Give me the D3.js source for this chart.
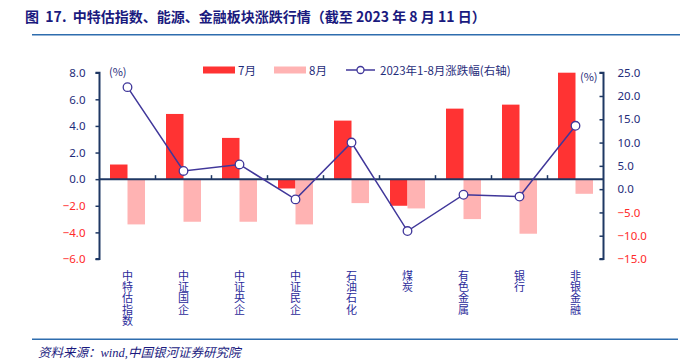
<!DOCTYPE html>
<html>
<head>
<meta charset="utf-8">
<script src="https://cdn.jsdelivr.net/npm/d3@7"></script>
<style>
  body { margin: 0; background: #fff; }
  svg { display: block; font-family: "Noto Sans CJK SC", "Noto Sans", sans-serif; }
</style>
</head>
<body>
<svg width="685" height="360"></svg>
<script>
const categories = ["中特估指数", "中证国企", "中证央企", "中证民企", "石油石化", "煤炭", "有色金属", "银行", "非银金融"];
const july = [1.1, 4.9, 3.1, -0.7, 4.4, -2.0, 5.3, 5.6, 8.0];
const august = [-3.4, -3.2, -3.2, -3.4, -1.8, -2.2, -3.0, -4.1, -1.1];
const ytd = [21.9, 3.9, 5.3, -2.2, 10.0, -9.0, -1.2, -1.6, 13.6];
const leftTicks = [8, 6, 4, 2, 0, -2, -4, -6];
const rightTicks = [25, 20, 15, 10, 5, 0, -5, -10, -15];

const navy = "#1F2C7A";
const axisColor = "#1F3864";
const red = "#FF3333";
const pink = "#FFB3B3";
const lineColor = "#40379A";

const svg = d3.select("svg");

const margin = { left: 99.5, right: 603.5, top: 72.7, bottom: 259 };

const x = d3.scaleBand()
  .domain(categories)
  .range([margin.left, margin.right])
  .paddingInner(0.375)
  .paddingOuter(0.1875);

const xSub = d3.scaleBand()
  .domain(["7月", "8月"])
  .range([0, x.bandwidth()]);

const yLeft = d3.scaleLinear().domain([-6, 8]).range([margin.bottom, margin.top]);
const yRight = d3.scaleLinear().domain([-15, 25]).range([margin.bottom, margin.top]);

// title
svg.append("text")
  .attr("x", 25)
  .attr("y", 22)
  .attr("fill", "#1A1A7E")
  .attr("font-size", 14)
  .attr("font-weight", "bold")
  .attr("xml:space", "preserve")
  .text("图  17.  中特估指数、能源、金融板块涨跌行情（截至 2023 年 8 月 11 日）");

svg.append("line")
  .attr("x1", 32).attr("x2", 680)
  .attr("y1", 34.7).attr("y2", 34.7)
  .attr("stroke", "#2E6DAE").attr("stroke-width", 1.5);

svg.append("line")
  .attr("x1", 32).attr("x2", 678)
  .attr("y1", 339.3).attr("y2", 339.3)
  .attr("stroke", "#2E6DAE").attr("stroke-width", 1.5);

svg.append("text")
  .attr("x", 38)
  .attr("y", 357)
  .attr("fill", "#1A1A7E")
  .attr("font-size", 12.5)
  .attr("font-style", "italic")
  .attr("font-family", "'Liberation Serif', 'Noto Sans CJK SC', serif")
  .text("资料来源：wind,中国银河证券研究院");

// bars
const groups = svg.append("g")
  .selectAll("g")
  .data(categories)
  .join("g")
  .attr("transform", d => `translate(${x(d)},0)`);

groups.append("rect")
  .attr("x", xSub("7月"))
  .attr("width", xSub.bandwidth())
  .attr("y", (d, i) => yLeft(Math.max(0, july[i])))
  .attr("height", (d, i) => Math.abs(yLeft(july[i]) - yLeft(0)))
  .attr("fill", red);

groups.append("rect")
  .attr("x", xSub("8月"))
  .attr("width", xSub.bandwidth())
  .attr("y", (d, i) => yLeft(Math.max(0, august[i])))
  .attr("height", (d, i) => Math.abs(yLeft(august[i]) - yLeft(0)))
  .attr("fill", pink);

// left axis
const leftAxis = svg.append("g")
  .attr("transform", `translate(${margin.left},0)`)
  .call(d3.axisLeft(yLeft).tickValues(leftTicks).tickSize(4).tickFormat(d3.format(".1f")));
leftAxis.select(".domain").attr("stroke", axisColor).attr("stroke-width", 2).attr("d", `M-4,${margin.top}H0V${margin.bottom}H-4`);
leftAxis.selectAll(".tick line").attr("stroke", axisColor).attr("stroke-width", 1.5);
leftAxis.selectAll(".tick text")
  .attr("x", -14)
  .attr("text-anchor", "end")
  .attr("font-size", 11.5)
  .attr("font-family", "'Noto Sans', sans-serif")
  .attr("fill", d => d < 0 ? "#FF2A2A" : navy);

// right axis
const rightAxis = svg.append("g")
  .attr("transform", `translate(${margin.right},0)`)
  .call(d3.axisRight(yRight).tickValues(rightTicks).tickSize(4).tickFormat(d3.format(".1f")));
rightAxis.select(".domain").attr("stroke", axisColor).attr("stroke-width", 2).attr("d", `M-4,${margin.top}H0V${margin.bottom}H-4`);
rightAxis.selectAll(".tick line").attr("stroke", axisColor).attr("stroke-width", 1.5).attr("x1", -4).attr("x2", 0);
rightAxis.selectAll(".tick text")
  .attr("x", 14)
  .attr("font-size", 11.5)
  .attr("font-family", "'Noto Sans', sans-serif")
  .attr("fill", d => d < 0 ? "#FF2A2A" : navy);

// x axis at zero of left
const xAxis = svg.append("g")
  .attr("transform", `translate(0,${yLeft(0)})`);
xAxis.append("line")
  .attr("x1", margin.left).attr("x2", margin.right)
  .attr("stroke", axisColor).attr("stroke-width", 2);
const step = x.step();
xAxis.selectAll("line.tk")
  .data(d3.range(1, categories.length))
  .join("line")
  .attr("class", "tk")
  .attr("x1", d => margin.left + d * step)
  .attr("x2", d => margin.left + d * step)
  .attr("y1", -4).attr("y2", 0)
  .attr("stroke", axisColor).attr("stroke-width", 1.5);

// category labels, written top to bottom
svg.append("g")
  .selectAll("text")
  .data(categories)
  .join("text")
  .attr("x", d => x(d) + x.bandwidth() / 2)
  .attr("y", 270)
  .attr("fill", "#2A2A9A")
  .attr("font-size", 11)
  .style("writing-mode", "vertical-rl")
  .style("text-orientation", "upright")
  .style("letter-spacing", "0.4px")
  .text(d => d);

// line series on right axis
const cxOf = (d) => x(d) + x.bandwidth() / 2;
const line = d3.line()
  .x((d, i) => cxOf(categories[i]))
  .y(d => yRight(d));

svg.append("path")
  .datum(ytd)
  .attr("d", line)
  .attr("fill", "none")
  .attr("stroke", lineColor)
  .attr("stroke-width", 1.5);

svg.append("g")
  .selectAll("circle")
  .data(ytd)
  .join("circle")
  .attr("cx", (d, i) => cxOf(categories[i]))
  .attr("cy", d => yRight(d))
  .attr("r", 4.3)
  .attr("fill", "#fff")
  .attr("stroke", lineColor)
  .attr("stroke-width", 1.3);

// unit labels
svg.append("text").attr("x", 109).attr("y", 76).attr("fill", navy).attr("font-size", 11).text("(%)");
svg.append("text").attr("x", 580).attr("y", 81).attr("fill", navy).attr("font-size", 11).text("(%)");

// legend
const legend = svg.append("g").attr("font-size", 11.5).attr("fill", navy);
legend.append("rect").attr("x", 203).attr("y", 66.5).attr("width", 32).attr("height", 7).attr("fill", red);
legend.append("text").attr("x", 238).attr("y", 74.5).text("7月");
legend.append("rect").attr("x", 274).attr("y", 66.5).attr("width", 32).attr("height", 7).attr("fill", pink);
legend.append("text").attr("x", 309).attr("y", 74.5).text("8月");
legend.append("line").attr("x1", 346).attr("x2", 375).attr("y1", 70).attr("y2", 70).attr("stroke", lineColor).attr("stroke-width", 1.5);
legend.append("circle").attr("cx", 360.5).attr("cy", 70).attr("r", 3.5).attr("fill", "#fff").attr("stroke", lineColor).attr("stroke-width", 1.3);
legend.append("text").attr("x", 380).attr("y", 74.5).text("2023年1-8月涨跌幅(右轴)");
</script>
</body>
</html>
